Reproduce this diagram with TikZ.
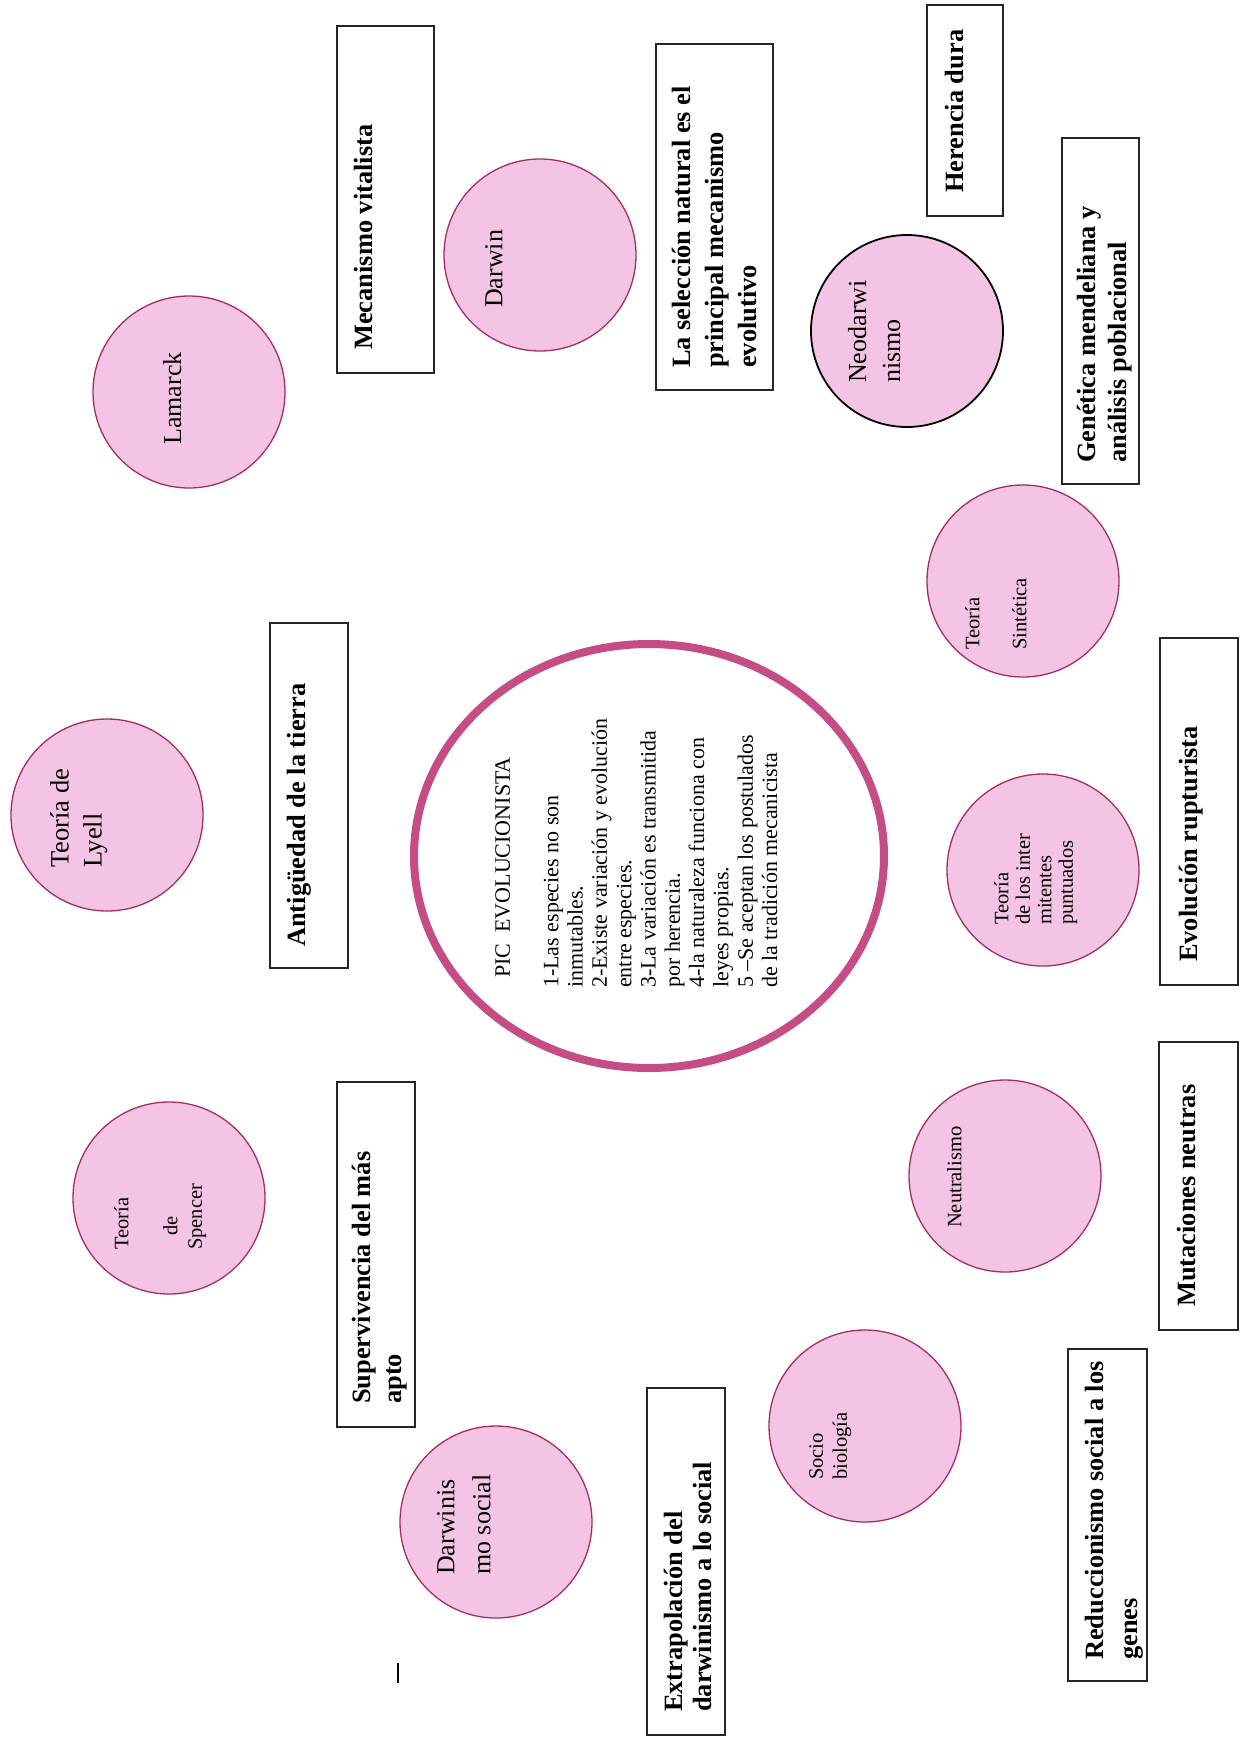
\documentclass[tikz,border=0pt]{standalone}
\usepackage{fontspec}
\setmainfont{Liberation Serif}
\usetikzlibrary{shapes.geometric}
\definecolor{bubblefill}{RGB}{244,196,228}
\definecolor{bubbleedge}{RGB}{165,45,100}
\definecolor{ringcol}{RGB}{198,76,132}
\begin{document}
\begin{tikzpicture}[x=1pt,y=-1pt,
  bubble/.style={circle, draw=bubbleedge, line width=1.3pt, fill=bubblefill, minimum size=192pt, inner sep=0pt},
  labelbox/.style={draw=black!85, line width=1.7pt, rectangle, inner sep=0pt, anchor=north west},
  boxtext/.style={anchor=north west, rotate=90, align=left, inner sep=0pt, font=\fontsize{26.4}{32}\selectfont\bfseries},
  bigtext/.style={anchor=north west, rotate=90, align=left, inner sep=0pt, font=\fontsize{26}{34}\selectfont},
  smalltext/.style={anchor=north west, rotate=90, align=left, inner sep=0pt, font=\fontsize{20.5}{21.5}\selectfont},
  pictext/.style={anchor=north west, rotate=90, align=left, inner sep=0pt, font=\fontsize{22}{24.3}\selectfont}
]
\fill[white] (0,0) rectangle (1244,1738);
\useasboundingbox (0,0) rectangle (1244,1738);

% central ellipse
\node[ellipse, draw=ringcol, line width=8pt, minimum width=470pt, minimum height=424pt, inner sep=0pt] (pic) at (649,856) {};
\node[pictext] (pictxt) at (495,988) {\hspace{10pt}PIC\ \ EVOLUCIONISTA\\[24.3pt]1-Las especies no son\\inmutables.\\2-Existe variación y evolución\\entre especies.\\3-La variación es transmitida\\por herencia.\\4-la naturaleza funciona con\\leyes propias.\\5 –Se aceptan los postulados\\de la tradición mecanicista};

% circles
\node[bubble] (lamarck) at (189,392) {};
\node[bubble] (darwin) at (540,255) {};
\node[bubble, draw=black, line width=1.8pt] (neo) at (907,331) {};
\node[bubble] (sint) at (1023,581) {};
\node[bubble] (lyell) at (107,815) {};
\node[bubble] (inter) at (1043,870) {};
\node[bubble] (spencer) at (169,1198) {};
\node[bubble] (neutral) at (1005,1176) {};
\node[bubble] (dsocial) at (496,1522) {};
\node[bubble] (socio) at (865,1426) {};

\node[bigtext] (tlamarck) at (163,445) {Lamarck};
\node[bigtext] (tdarwin) at (485,308) {Darwin};
\node[bigtext] (tneo) at (848,383) {Neodarwi\\nismo};
\node[bigtext, font=\fontsize{26.5}{33}\selectfont] (tlyell) at (50,868) {Teoría de\\Lyell};
\node[bigtext, font=\fontsize{26}{36}\selectfont] (tdsocial) at (437,1575) {Darwinis\\mo social};
\node[smalltext, font=\fontsize{20.5}{24.5}\selectfont] (tspencer) at (114,1250) {Teoría\\[24.5pt]\hspace{14pt}de\\Spencer};
\node[smalltext, font=\fontsize{20.5}{23.5}\selectfont] (tsint) at (965,650) {Teoría\\[23.5pt]Sintética};
\node[smalltext] (tinter) at (994,925) {Teoría\\de los inter\\mitentes\\puntuados};
\node[smalltext] (tneutral) at (947,1228) {Neutralismo};
\node[smalltext, font=\fontsize{20.5}{24}\selectfont] (tsocio) at (809,1480) {Socio\\biología};

% boxes
\node[labelbox, minimum width=97pt, minimum height=347pt] (b1) at (336,25) {};
\node[boxtext] (t1) at (354,350) {Mecanismo vitalista};
\node[labelbox, minimum width=117pt, minimum height=346pt] (b2) at (655,43) {};
\node[boxtext, font=\fontsize{26.4}{33}\selectfont\bfseries] (t2) at (672,368) {La selección natural es el\\principal mecanismo\\evolutivo};
\node[labelbox, minimum width=76pt, minimum height=211pt] (b3) at (926,4) {};
\node[boxtext] (t3) at (945,193) {Herencia dura};
\node[labelbox, minimum width=77pt, minimum height=346pt] (b4) at (1061,137) {};
\node[boxtext, font=\fontsize{26.4}{31}\selectfont\bfseries] (t4) at (1077,463) {Genética mendeliana y\\análisis poblacional};
\node[labelbox, minimum width=78pt, minimum height=345pt] (b5) at (269,622) {};
\node[boxtext] (t5) at (287,947) {Antigüedad de la tierra};
\node[labelbox, minimum width=78pt, minimum height=347pt] (b6) at (1159,637) {};
\node[boxtext] (t6) at (1179,962) {Evolución rupturista};
\node[labelbox, minimum width=78pt, minimum height=345pt] (b7) at (336,1081) {};
\node[boxtext, font=\fontsize{26.4}{31}\selectfont\bfseries] (t7) at (352,1404) {Supervivencia del más\\apto};
\node[labelbox, minimum width=79pt, minimum height=288pt] (b8) at (1158,1041) {};
\node[boxtext] (t8) at (1177,1307) {Mutaciones neutras};
\node[labelbox, minimum width=78pt, minimum height=347pt] (b9) at (646,1387) {};
\node[boxtext, font=\fontsize{26.4}{29}\selectfont\bfseries] (t9) at (664,1712) {Extrapolación del\\darwinismo a lo social};
\node[labelbox, minimum width=79pt, minimum height=332pt] (b10) at (1067,1348) {};
\node[boxtext, font=\fontsize{26.4}{34}\selectfont\bfseries] (t10) at (1085,1660) {Reduccionismo social a los\\genes};

% stray mark
\coordinate (m1) at (398,1663);
\coordinate (m2) at (398,1683);
\draw[line width=2pt] (m1) -- (m2);
\end{tikzpicture}
\end{document}
